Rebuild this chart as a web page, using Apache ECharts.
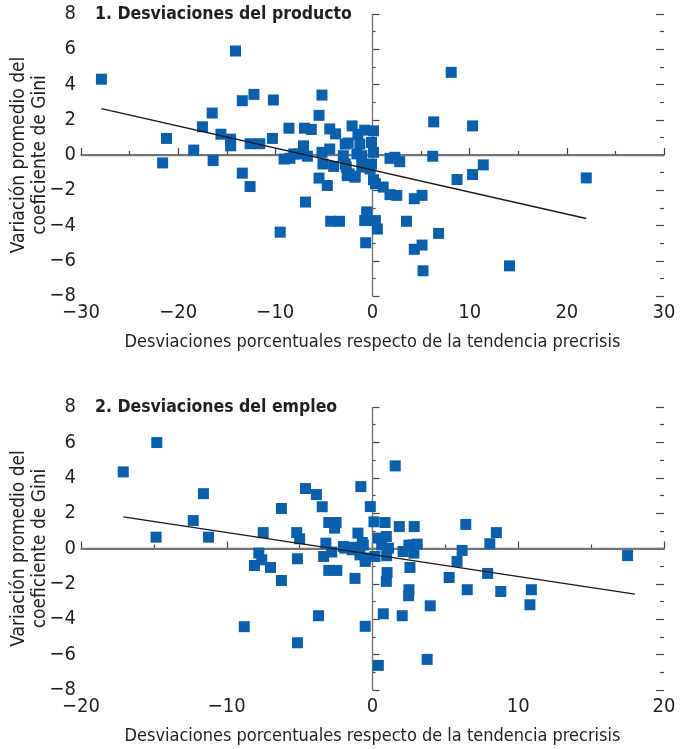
<!DOCTYPE html>
<html>
<head>
<meta charset="utf-8">
<script src="https://cdn.jsdelivr.net/npm/echarts@6/dist/echarts.min.js"></script>
<style>
  html, body { margin: 0; padding: 0; background: #fff; }
  #chart { width: 685px; height: 749px; }
</style>
</head>
<body>
<div id="chart"></div>
<script>
// Panel titles and axis captions
const panelTitles = ['1. Desviaciones del producto', '2. Desviaciones del empleo'];
const xAxisTitle = 'Desviaciones porcentuales respecto de la tendencia precrisis';
const yAxisTitle = 'Variación promedio del\ncoeficiente de Gini';

// Axis ranges
const productoXRange = [-30, 30];
const empleoXRange = [-20, 20];
const yRange = [-8, 8];

// Panel 1: output deviation (%) vs. average change in Gini
const productoPts = [
  [-27.9, 4.3], [-21.6, -0.45], [-21.2, 0.94], [-18.4, 0.28], [-17.5, 1.6],
  [-16.5, 2.38], [-16.4, -0.32], [-15.6, 1.18], [-14.6, 0.9], [-14.6, 0.52],
  [-14.1, 5.9], [-13.4, 3.08], [-13.4, -1.03], [-12.6, 0.64], [-12.6, -1.79],
  [-12.2, 3.44], [-11.6, 0.64], [-10.3, 0.94], [-10.2, 3.12], [-9.5, -4.38],
  [-9.1, -0.23], [-8.6, 1.52], [-8.5, -0.19], [-8.1, 0.06], [-7.6, 0.06],
  [-7.1, 0.52], [-7.0, 1.52], [-6.9, -2.67], [-6.7, -0.07], [-6.3, 1.45],
  [-5.5, 2.25], [-5.2, 3.4], [-5.2, 0.15], [-5.1, -0.51], [-5.5, -1.31],
  [-4.65, -1.73], [-4.4, 1.48], [-4.4, 0.34], [-4.0, -0.65], [-4.3, -3.76],
  [-3.8, 1.2], [-3.4, -3.76], [-3.0, -0.04], [-2.8, 0.62], [-2.8, -0.51],
  [-2.7, -0.69], [-2.6, -1.17], [-2.5, 0.68], [-2.4, -1.07], [-2.1, 1.65],
  [-1.8, -1.2], [-1.8, -1.26], [-1.6, 0.06], [-1.5, 1.18], [-1.3, 0.62],
  [-1.1, -0.04], [-1.1, -0.6], [-0.95, -0.69], [-0.8, 1.41], [-0.8, -3.72],
  [-0.6, -3.23], [-0.7, -4.98], [-0.26, -0.79], [-0.1, 0.71], [-0.1, -0.51],
  [0.1, 1.37], [0.1, 0.15], [0.1, -1.4], [0.3, -1.63], [0.3, -3.72],
  [0.5, -4.2], [1.1, -1.82], [1.8, -0.19], [1.8, -2.25], [2.5, -2.29],
  [2.3, -0.13], [2.8, -0.38], [3.5, -3.76], [4.3, -2.48], [4.3, -5.35],
  [5.1, -2.29], [5.1, -5.11], [5.2, -6.57], [6.2, -0.07], [6.3, 1.88],
  [6.8, -4.45], [8.1, 4.69], [8.7, -1.39], [10.3, 1.65], [10.3, -1.11],
  [11.4, -0.56], [14.1, -6.29], [22.0, -1.3]
];
const productoFit = [[-27.9, 2.63], [22.0, -3.6]];

// Panel 2: employment deviation (%) vs. average change in Gini
const empleoPts = [
  [-17.1, 4.33], [-14.8, 5.99], [-14.85, 0.64], [-12.3, 1.58], [-11.6, 3.1],
  [-11.25, 0.64], [-8.8, -4.42], [-8.1, -0.96], [-7.8, -0.26], [-7.6, -0.64],
  [-7.5, 0.9], [-7.0, -1.07], [-6.25, 2.26], [-6.25, -1.81], [-5.2, 0.9],
  [-5.0, 0.55], [-5.15, -0.58], [-5.15, -5.33], [-4.6, 3.39], [-3.85, 3.05],
  [-3.7, -3.8], [-3.45, 2.36], [-3.35, -0.45], [-3.2, 0.3], [-3.0, 1.47],
  [-3.0, -1.24], [-2.8, -0.2], [-2.6, 1.15], [-2.5, 1.47], [-2.45, -1.24],
  [-2.0, 0.11], [-1.9, 0.02], [-1.4, -0.07], [-1.3, 0.07], [-1.2, -1.69],
  [-1.0, 0.87], [-0.86, -0.36], [-0.8, 3.5], [-0.7, 0.34], [-0.63, 0.2],
  [-0.5, -0.73], [-0.5, -0.54], [-0.5, -4.4], [-0.15, 2.37], [0.1, 1.51],
  [0.17, -0.45], [0.4, 0.59], [0.4, -6.61], [0.63, 0.2], [0.74, -3.69],
  [0.86, 1.47], [0.95, 0.68], [0.97, -0.41], [0.95, -1.86], [1.0, -1.36],
  [1.1, 0.02], [1.56, 4.67], [1.84, 1.24], [2.04, -3.8], [2.1, -0.17],
  [2.48, -2.67], [2.5, -2.33], [2.5, 0.19], [2.57, -1.07], [2.8, 0.2],
  [2.84, -0.26], [2.86, 1.24], [3.07, 0.25], [3.75, -6.27], [3.96, -3.24],
  [5.26, -1.64], [5.8, -0.73], [6.15, -0.11], [6.4, 1.36], [6.5, -2.33],
  [7.9, -1.41], [8.05, 0.27], [8.5, 0.9], [8.8, -2.43], [10.8, -3.18],
  [10.9, -2.33], [17.5, -0.4]
];
const empleoFit = [[-17.1, 1.79], [18.0, -2.58]];

const FONT = '"DejaVu Sans Condensed", "Liberation Sans Narrow", "Liberation Sans", sans-serif';
const TEXT = '#231f20';
const MARK = '#0a5fae';
const minus = v => String(v).replace('-', '\u2212');

const grids = [
  { left: 81, right: 21, top: 14, height: 282, containLabel: false, outerBoundsMode: 'none' },
  { left: 81, right: 21, top: 407, height: 283, containLabel: false, outerBoundsMode: 'none' }
];

function xAxisFor(gi, range) {
  return {
    type: 'value', gridIndex: gi, min: range[0], max: range[1], interval: 10,
    name: xAxisTitle, nameLocation: 'middle', nameGap: 37,
    nameTextStyle: { fontFamily: FONT, fontSize: 18, color: TEXT },
    axisLine: { show: true, lineStyle: { color: '#444', width: 1.5 } },
    axisTick: { show: true, inside: true, length: 7, lineStyle: { color: '#444', width: 1.2 } },
    minorTick: { show: true, splitNumber: 2, length: 4, lineStyle: { color: '#444', width: 1.2 } },
    axisLabel: { fontFamily: FONT, fontSize: 20, color: TEXT, margin: 7, formatter: minus },
    splitLine: { show: false }
  };
}

function yAxisLeft(gi) {
  return {
    type: 'value', gridIndex: gi, position: 'left', min: yRange[0], max: yRange[1], interval: 2,
    name: yAxisTitle, nameLocation: 'middle', nameGap: 30, nameRotate: 90, nameMoveOverlap: false,
    nameTextStyle: { fontFamily: FONT, fontSize: 19, color: TEXT, lineHeight: 21, align: 'center' },
    axisLine: { show: false },
    axisTick: { show: true, inside: true, length: 7, lineStyle: { color: '#444', width: 1.2 } },
    minorTick: { show: true, splitNumber: 2, length: 3, lineStyle: { color: '#444', width: 1.2 } },
    axisLabel: { fontFamily: FONT, fontSize: 20, color: TEXT, margin: 5, formatter: minus },
    splitLine: { show: false }
  };
}

function yAxisRight(gi) {
  return {
    type: 'value', gridIndex: gi, position: 'right', min: yRange[0], max: yRange[1], interval: 2,
    axisLine: { show: false },
    axisTick: { show: true, inside: true, length: 8, lineStyle: { color: '#444', width: 1.2 } },
    minorTick: { show: true, splitNumber: 2, length: 4, lineStyle: { color: '#444', width: 1.2 } },
    axisLabel: { show: false },
    splitLine: { show: false }
  };
}

function panelSeries(pts, fit, xi, yi) {
  return [
    {
      type: 'scatter', xAxisIndex: xi, yAxisIndex: yi, data: pts,
      symbol: 'rect', symbolSize: 11, itemStyle: { color: MARK, opacity: 1 },
      z: 3,
      markLine: {
        silent: true, symbol: 'none', label: { show: false },
        lineStyle: { color: '#777', width: 1.4, type: 'solid' },
        data: [{ xAxis: 0 }, { yAxis: 0 }],
        z: 1
      }
    },
    {
      type: 'line', xAxisIndex: xi, yAxisIndex: yi, data: fit,
      symbol: 'none', lineStyle: { color: '#1a1a1a', width: 1.4 }, z: 4
    }
  ];
}

const titleStyle = { fontFamily: FONT, fontSize: 17.5, fontWeight: 'bold', color: TEXT };

const chart = echarts.init(document.getElementById('chart'), null, { renderer: 'canvas' });
chart.setOption({
  animation: false,
  backgroundColor: '#fff',
  title: [
    { text: panelTitles[0], left: 95, top: 5, padding: 0, textStyle: titleStyle },
    { text: panelTitles[1], left: 95, top: 398, padding: 0, textStyle: titleStyle }
  ],
  grid: grids,
  xAxis: [xAxisFor(0, productoXRange), xAxisFor(1, empleoXRange)],
  yAxis: [yAxisLeft(0), yAxisRight(0), yAxisLeft(1), yAxisRight(1)],
  series: [
    ...panelSeries(productoPts, productoFit, 0, 0),
    ...panelSeries(empleoPts, empleoFit, 1, 2)
  ]
});
</script>
</body>
</html>
